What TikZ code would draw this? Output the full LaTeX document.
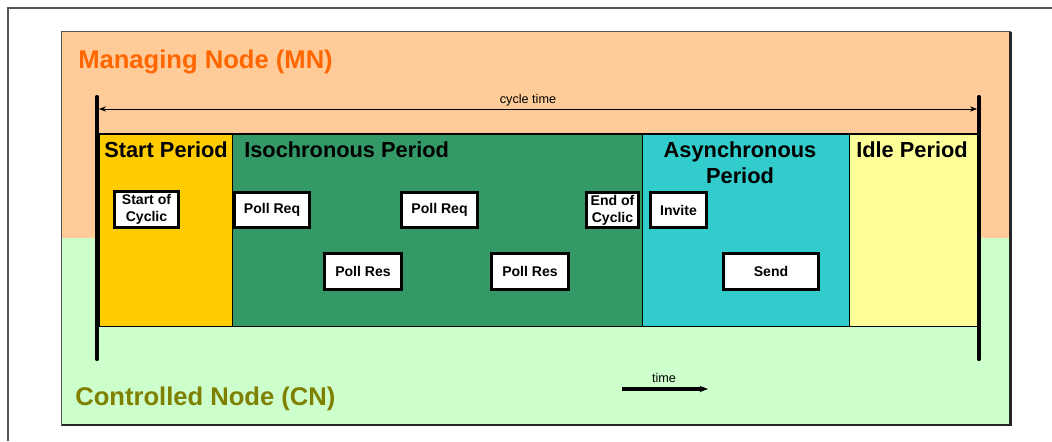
\documentclass[tikz,border=0pt]{standalone}
\usepackage{fontspec}
\setmainfont{Liberation Sans}
\usepackage{tikz}
\usetikzlibrary{arrows.meta,positioning}
\definecolor{mnorange}{RGB}{255,204,153}
\definecolor{cngreen}{RGB}{204,255,204}
\definecolor{mntext}{RGB}{255,102,0}
\definecolor{cntext}{RGB}{128,128,0}
\definecolor{startyellow}{RGB}{255,204,0}
\definecolor{isogreen}{RGB}{51,153,102}
\definecolor{asynccyan}{RGB}{51,204,204}
\definecolor{idleyellow}{RGB}{255,255,153}
\definecolor{framegray}{RGB}{85,85,85}
\tikzset{
  % outer frame line
  outerline/.style={draw=framegray, line width=0.9pt},
  % period strip
  period/.style={draw=black, line width=0.7pt},
  periodlab/.style={font=\fontsize{15.5}{18.6}\selectfont\bfseries, inner sep=0pt},
  % message boxes
  msgbox/.style={
    draw=black,
    line width=2.1pt,
    fill=white,
    inner sep=1pt,
    align=center,
    minimum height=0.88cm,
    font=\fontsize{10}{12}\selectfont\bfseries
  },
  % MN / CN labels
  nodelab/.style={font=\fontsize{18.2}{21}\selectfont\bfseries, inner sep=0pt, anchor=base west},
  % cycle limits
  cyclebar/.style={line width=3pt, line cap=round},
  % arrows
  arr/.style={-{Stealth[length=6pt]}, line width=2.2pt},
  smalllab/.style={font=\fontsize{9}{10}\selectfont, inner sep=0pt, anchor=base},
}
\begin{document}
\begin{tikzpicture}[x=0.025cm, y=-0.025cm]
    \useasboundingbox (0,0) rectangle (1052,441);
    % outer frame
    \draw[outerline] (8,441) -- (8,8) -- (1052,8);

    % MN and CN areas
    \fill[mnorange] (61,31) rectangle (1010,238);
    \fill[cngreen] (61,238) rectangle (1010,425);
    \draw[framegray, line width=0.6pt] (61,31) rectangle (1010,425);
    \draw[black!85, line width=1.6pt] (62,425) -- (1010.5,425) -- (1010.5,32);
    \node[nodelab, text=mntext] (mnlab) at (78,68) {Managing Node (MN)};
    \node[nodelab, text=cntext] (cnlab) at (75,405) {Controlled Node (CN)};

    % periods
    \draw[period, fill=startyellow] (99,134) rectangle (232,326);
    \draw[period, fill=isogreen] (232,134) rectangle (642,326);
    \draw[period, fill=asynccyan] (642,134) rectangle (849,326);
    \draw[period, fill=idleyellow] (849,134) rectangle (978,326);
    \draw[black, line width=1.4pt] (99,134) -- (978,134);
    \node[periodlab, anchor=base west] (startlab) at (104,157) {Start Period};
    \node[periodlab, anchor=base west] (isolab) at (244,157) {Isochronous Period};
    \node[periodlab, anchor=north, align=center] (asynclab) at (740,141) {Asynchronous\\Period};
    \node[periodlab, anchor=base west] (idlelab) at (856,157) {Idle Period};

    % messages
    \node[msgbox, minimum width=1.6cm] (soc) at (146.5,209.5) {Start of\\Cyclic};
    \node[msgbox, minimum width=1.875cm] (preq1) at (272,210) {Poll Req};
    \node[msgbox, minimum width=1.9cm] (preq2) at (439.5,210) {Poll Req};
    \node[msgbox, minimum width=1.3cm] (eoc) at (612.5,210) {End of\\Cyclic};
    \node[msgbox, minimum width=1.4cm] (invite) at (678.5,210) {Invite};
    \node[msgbox, minimum width=1.925cm] (pres1) at (363,271.5) {Poll Res};
    \node[msgbox, minimum width=1.925cm] (pres2) at (530,271.5) {Poll Res};
    \node[msgbox, minimum width=2.375cm] (send) at (771,271.5) {Send};

    % cycle limits and cycle time
    \coordinate (barltop) at (97,97);
    \coordinate (barlbot) at (97,359);
    \coordinate (barrtop) at (979,97);
    \coordinate (barrbot) at (979,359);
    \draw[cyclebar] (barltop) -- (barlbot);
    \draw[cyclebar] (barrtop) -- (barrbot);
    \coordinate (ctl) at (99,109);
    \coordinate (ctr) at (977,109);
    \draw[{Stealth[length=5pt]}-{Stealth[length=5pt]}, line width=0.6pt] (ctl) -- (ctr);
    \node[smalllab] (cyclelab) at (528,103) {cycle time};

    % time direction
    \coordinate (tstart) at (622,389);
    \coordinate (tend) at (708,389);
    \draw[arr] (tstart) -- (tend);
    \node[smalllab] (timelab) at (664,382) {time};
\end{tikzpicture}
\end{document}
